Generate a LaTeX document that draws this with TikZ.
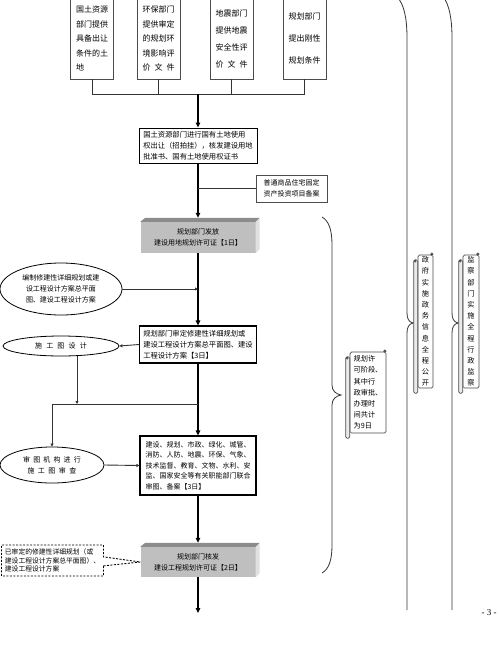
\documentclass[tikz,border=0pt]{standalone}
\usepackage{fontspec}
\setmainfont{Noto Sans CJK SC}
\newfontfamily\pagefont{Liberation Serif}
\usetikzlibrary{arrows.meta,shapes.geometric,shapes.callouts}

\newcommand{\txtsz}[2]{\fontsize{#1}{#2}\selectfont}
\newcommand{\gap}[1]{\hspace{#1em}}

\tikzset{
  topbox/.style={draw=black!70, line width=0.8pt, minimum width=43pt, minimum height=81pt,
    inner sep=0pt, align=left, font=\txtsz{8}{14.5}},
  stepbox/.style={draw, line width=1.2pt, inner sep=0pt, align=left, font=\txtsz{7.3}{10.8}},
  slab/.style={fill=black!25, minimum width=115pt, inner sep=0pt, align=center, font=\txtsz{7}{11}},
  oval/.style={ellipse, draw, line width=0.8pt, inner sep=0pt, align=center, font=\txtsz{7}{11}},
  panel/.style={draw=black!70, fill=white, rounded corners=1.5pt, line width=0.7pt,
    inner sep=0pt, font=\txtsz{7.2}{11.2}},
  trunk/.style={line width=2pt, -{Triangle[length=5pt,width=4.5pt]}},
  feed/.style={line width=0.9pt, draw=black!80},
  feedarrow/.style={feed, -{Triangle[length=3pt,width=3pt]}},
  bracket/.style={line width=0.8pt, draw=black!80},
}

\begin{document}
\begin{tikzpicture}[x=1pt, y=-1pt]
    \useasboundingbox (0,0) rectangle (500,667);
    \fill[white] (0,0) rectangle (500,667);
    \clip (0,0) rectangle (500,667);

    % source documents
    \node[topbox] (soil) at (92,38.5) {国土资源\\部门提供\\具备出让\\条件的土\\地};
    \node[topbox] (env) at (158.5,38.5) {环保部门\\提供审定\\的规划环\\境影响评\\价\gap{0.5}文\gap{0.5}件};
    \node[topbox, font=\txtsz{8}{17}] (quake) at (231.5,38.5) {地震部门\\提供地震\\安全性评\\价\gap{0.5}文\gap{0.5}件};
    \node[topbox, font=\txtsz{8}{22}] (plan) at (304.5,38.5) {规划部门\\提出刚性\\规划条件};
    \coordinate (bus) at (198,94);

    % main chain
    \node[stepbox, line width=1pt, minimum width=118pt, minimum height=35pt] (grant) at (198,145.5)
        {国土资源部门进行国有土地使用\\权出让（招拍挂），核发建设用地\\批准书、国有土地使用权证书};
    \node[stepbox, draw=black!70, line width=0.8pt, minimum width=71pt, minimum height=27pt,
        font=\txtsz{7}{11}] (record) at (291.5,188.5) {普通商品住宅固定\\资产投资项目备案};
    \node[slab, minimum height=31pt] (permA) at (198,237.5) {规划部门发放\\建设用地规划许可证【1日】};
    \node[oval, minimum width=122pt, minimum height=52pt] (scheme) at (61,289)
        {编制修建性详细规划或建\\设工程设计方案总平面\\图、建设工程设计方案};
    \node[stepbox, minimum width=117pt, minimum height=37pt] (audit) at (198,344.5)
        {规划部门审定修建性详细规划或\\建设工程设计方案总平面图、建设\\工程设计方案【3日】};
    \node[oval, minimum width=116pt, minimum height=20pt] (draft) at (61,346)
        {施\gap{0.6}工\gap{0.6}图\gap{0.6}设\gap{0.6}计};
    \coordinate (split) at (198,404);
    \node[oval, minimum width=104pt, minimum height=36pt] (check) at (52,465)
        {审\gap{0.45}图\gap{0.45}机\gap{0.45}构\gap{0.45}进\gap{0.45}行\\施\gap{0.5}工\gap{0.5}图\gap{0.5}审\gap{0.5}查};
    \node[stepbox, minimum width=116pt, minimum height=59pt, font=\txtsz{7}{10.5}] (joint) at (198,465.5)
        {建设、规划、市政、绿化、城管、\\消防、人防、地震、环保、气象、\\技术监督、教育、文物、水利、安\\监、国家安全等有关职能部门联合\\审图、备案【3日】};
    \node[slab, minimum height=30pt] (permB) at (198,562) {规划部门核发\\建设工程规划许可证【2日】};
    \node[rectangle callout, draw, line width=0.9pt, dash pattern=on 2pt off 1.5pt,
        callout absolute pointer={(permB.west)}, callout pointer width=9pt,
        minimum width=102pt, minimum height=31pt, inner sep=0pt, align=left,
        font=\txtsz{6.8}{8.5}] (note) at (52.5,560.5)
        {已审定的修建性详细规划（或\\建设工程设计方案总平面图）、\\建设工程设计方案};
    \coordinate (exit) at (198,613);

    % slab faces
    \foreach \s in {permA,permB} {
        \fill[black!45] (\s.north west) -- ([shift={(5pt,4pt)}]\s.north west)
            -- ([shift={(4pt,4pt)}]\s.north east) -- (\s.north east) -- cycle;
        \fill[black!12] (\s.north east) -- ([shift={(4pt,4pt)}]\s.north east)
            -- ([shift={(4pt,4pt)}]\s.south east) -- (\s.south east) -- cycle;
    }

    % connectors
    \draw[feed] (soil.south) -- (soil.south |- bus) -- (plan.south |- bus) -- (plan.south);
    \draw[feed] (env.south) -- (env.south |- bus);
    \draw[feed] (quake.south) -- (quake.south |- bus);
    \draw[trunk] (bus) -- (grant.north);
    \draw[trunk] (grant.south) -- ([yshift=4pt]permA.north);
    \draw[feed] (grant.south |- record.west) -- (record.west);
    \draw[trunk] (permA.south) -- (audit.north);
    \draw[feedarrow] (scheme.east) -- (scheme.east -| permA.south);
    \draw[feedarrow] (audit.west) -- (draft.east);
    \draw[trunk] (audit.south) -- (joint.north);
    \draw[feedarrow] ([xshift=16pt]draft.south) -- ([xshift=16pt]draft.south |- split);
    \draw[feedarrow] (split) -| (check.north);
    \draw[feedarrow] (check.east) -- (joint.west);
    \draw[trunk] (joint.south) -- ([yshift=4pt]permB.north);
    \draw[trunk] (permB.south) -- (exit);

    % scrolls
    \node[panel, minimum width=36pt, minimum height=81pt, align=left] (stage) at (368,392.5)
        {规划许\\可阶段、\\其中行\\政审批、\\办理时\\间共计\\为9日};
    \node[panel, minimum width=15pt, minimum height=133pt, align=center] (publish) at (425.5,321.5)
        {政\\府\\实\\施\\政\\务\\信\\息\\全\\程\\公\\开};
    \node[panel, minimum width=16pt, minimum height=133pt, align=center] (monitor) at (471,321.5)
        {监\\察\\部\\门\\实\\施\\全\\程\\行\\政\\监\\察};
    \foreach \s in {stage,publish,monitor} {
        \draw[panel, fill=black!8] ([shift={(-4pt,-5pt)}]\s.north west) rectangle ([shift={(0pt,-5pt)}]\s.south west);
        \filldraw[black!70] ([shift={(-2.5pt,-6.5pt)}]\s.north west) circle (1.1pt);
        \filldraw[black!70] ([shift={(-1.5pt,0.5pt)}]\s.north east) circle (1.4pt);
    }

    % braces
    \draw[bracket] (322,217) .. controls (329,221) and (332,230) .. (332,245) -- (332,385)
        .. controls (332,391) and (336,394) .. (341,395) .. controls (336,396) and (332,399) .. (332,405)
        -- (332,545) .. controls (332,560) and (329,569) .. (322,573);
    \draw[bracket] (398,-2) .. controls (404,5) and (407,18) .. (407,38) -- (407,313)
        .. controls (407,319) and (409,322) .. (413,323) .. controls (409,324) and (407,327) .. (407,333)
        -- (407,610);
    \draw[bracket] (444,-2) .. controls (449,5) and (452,18) .. (452,38) -- (452,313)
        .. controls (452,319) and (454,322) .. (458,323) .. controls (454,324) and (452,327) .. (452,333)
        -- (452,610);

    \node[font=\pagefont\txtsz{9}{11}] (pageno) at (489,613) {- 3 -};
\end{tikzpicture}
\end{document}
